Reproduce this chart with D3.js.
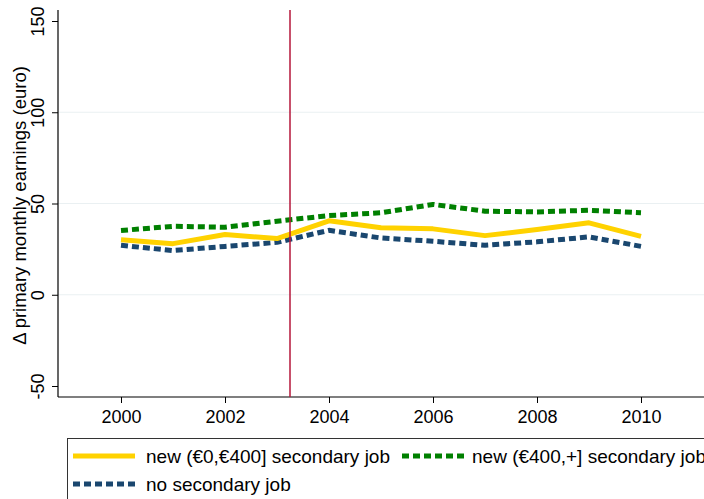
<!DOCTYPE html>
<html>
<head>
<meta charset="utf-8">
<script src="https://d3js.org/d3.v7.min.js"></script>
<style>
  html, body { margin: 0; padding: 0; background: #fff; }
  svg { display: block; font-family: "Liberation Sans", Arial, Helvetica, sans-serif; }
</style>
</head>
<body>
<svg id="chart" width="704" height="499"></svg>
<script>
// Years on the x axis
const years = [2000, 2001, 2002, 2003, 2004, 2005, 2006, 2007, 2008, 2009, 2010];

// Change in primary monthly earnings (euro) by secondary-job status
const smallSecondary = [30.2, 28.0, 33.0, 30.8, 40.5, 36.7, 36.1, 32.4, 35.7, 39.4, 32.0];
const largeSecondary = [35.2, 37.5, 37.0, 40.3, 43.4, 44.9, 49.5, 45.8, 45.4, 46.3, 44.9];
const noSecondary    = [27.1, 24.2, 26.5, 28.7, 35.3, 31.1, 29.3, 27.1, 29.0, 31.7, 26.5];

// Axis ticks
const xTicks = [2000, 2002, 2004, 2006, 2008, 2010];
const yTicks = [-50, 0, 50, 100, 150];
const yGrid = [0, 50, 100];

// Reform marker
const reformYear = 2003.25;

const seriesNames = [
  "new (\u20ac0,\u20ac400] secondary job",
  "new (\u20ac400,+] secondary job",
  "no secondary job"
];

const svg = d3.select("#chart");

const plotLeft = 58, plotRight = 704, plotTop = 10, plotBottom = 397;

const x = d3.scaleLinear().domain([2000, 2010]).range([121, 641]);
const y = d3.scaleLinear().domain([-50, 150]).range([386, 21]);

// Gridlines
svg.append("g").selectAll("line").data(yGrid).join("line")
  .attr("x1", plotLeft).attr("x2", plotRight)
  .attr("y1", d => y(d)).attr("y2", d => y(d))
  .attr("stroke", "#eaf0f2").attr("stroke-width", 1.2);

// Y axis (plain hyphen for negative labels)
const yAxis = d3.axisLeft(y).tickValues(yTicks).tickSize(6).tickFormat(d => String(d));
const gy = svg.append("g").attr("transform", `translate(${plotLeft},0)`).call(yAxis);
gy.select(".domain").remove();
gy.append("line").attr("x1", 0).attr("x2", 0).attr("y1", plotTop).attr("y2", plotBottom)
  .attr("stroke", "#000").attr("stroke-width", 1.2);
gy.selectAll(".tick line").attr("stroke", "#000");
gy.selectAll(".tick text")
  .attr("x", null).attr("dy", null)
  .attr("transform", "translate(-14,0) rotate(-90)")
  .attr("text-anchor", "middle")
  .attr("fill", "#000")
  .style("font-size", "18px");

// X axis
const xAxis = d3.axisBottom(x).tickValues(xTicks).tickSize(6).tickFormat(d => String(d));
const gx = svg.append("g").attr("transform", `translate(0,${plotBottom})`).call(xAxis);
gx.select(".domain").remove();
gx.append("line").attr("x1", plotLeft).attr("x2", plotRight).attr("y1", 0).attr("y2", 0)
  .attr("stroke", "#000").attr("stroke-width", 1.2);
gx.selectAll(".tick line").attr("stroke", "#000");
gx.selectAll(".tick text").attr("y", 13).attr("fill", "#000").style("font-size", "18px");

// Y axis title
svg.append("text")
  .attr("transform", `translate(26,${(plotTop + plotBottom) / 2 + 2}) rotate(-90)`)
  .attr("text-anchor", "middle")
  .style("font-size", "18.5px")
  .text("\u0394 primary monthly earnings (euro)");

// Series lines
const series = [
  { values: smallSecondary, color: "#ffd200", dash: null },
  { values: largeSecondary, color: "#008000", dash: "7,4" },
  { values: noSecondary,    color: "#1a476f", dash: "7,4" }
];

const line = d3.line().x((d, i) => x(years[i])).y(d => y(d));

// Draw back to front: no secondary job, small, large
[2, 0, 1].forEach(k => {
  const s = series[k];
  svg.append("path")
    .attr("d", line(s.values))
    .attr("fill", "none")
    .attr("stroke", s.color)
    .attr("stroke-width", 5)
    .attr("stroke-dasharray", s.dash)
    .attr("stroke-linejoin", "round");
});

// Reform year marker
svg.append("line")
  .attr("x1", x(reformYear)).attr("x2", x(reformYear))
  .attr("y1", plotTop).attr("y2", plotBottom)
  .attr("stroke", "#b5163a").attr("stroke-width", 1.5);

// Legend
const legend = svg.append("g");
legend.append("rect")
  .attr("x", 67.5).attr("y", 438.5).attr("width", 700).attr("height", 80)
  .attr("fill", "#fff").attr("stroke", "#333").attr("stroke-width", 1);

const legendItems = [
  { k: 0, lx: 73, tx: 146, ly: 456 },
  { k: 1, lx: 402, tx: 472, ly: 456 },
  { k: 2, lx: 73, tx: 146, ly: 484 }
];
legendItems.forEach(it => {
  const s = series[it.k];
  legend.append("line")
    .attr("x1", it.lx).attr("x2", it.lx + 62)
    .attr("y1", it.ly).attr("y2", it.ly)
    .attr("stroke", s.color).attr("stroke-width", 5)
    .attr("stroke-dasharray", s.dash);
  legend.append("text")
    .attr("x", it.tx).attr("y", it.ly + 7)
    .style("font-size", "19px")
    .text(seriesNames[it.k]);
});
</script>
</body>
</html>
